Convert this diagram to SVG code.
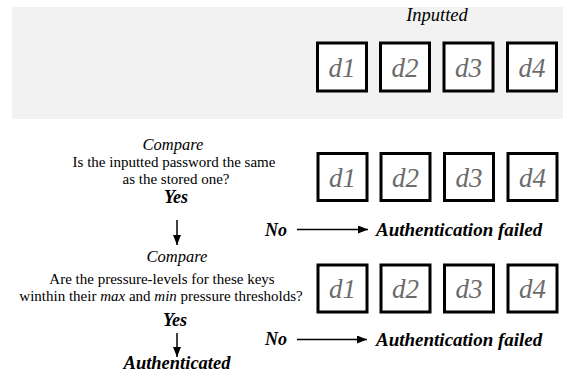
<svg xmlns="http://www.w3.org/2000/svg" width="563" height="382" viewBox="0 0 563 382" font-family="'Liberation Serif','Times New Roman',serif">
<defs>
<marker id="ah" markerWidth="10" markerHeight="8" refX="10" refY="4" orient="auto" markerUnits="userSpaceOnUse">
<path d="M0,0 L10,4 L0,8 Z" fill="#000"/>
</marker>
<style>
text{font-family:'Liberation Serif','Times New Roman',serif;fill:#000}
.box{fill:#fff;stroke:#000;stroke-width:3}
.d{font-style:italic;font-size:27px;fill:#6b6b6b;text-anchor:middle}
.it{font-style:italic;font-size:16.5px;text-anchor:middle}
.q{font-size:15px;text-anchor:middle}
.bi{font-style:italic;font-weight:bold;font-size:18px}
.c{text-anchor:middle}
.conn{stroke:#000;stroke-width:1.5;fill:none}
</style>
</defs>
<rect x="12" y="7" width="551" height="112" fill="#f2f2f2"/>
<text class="it" x="437" y="21" style="font-size:18.5px">Inputted</text>
<g id="input-keys">
<rect class="box" x="317.5" y="43" width="49" height="48"/><text class="d" x="342" y="77">d1</text>
<rect class="box" x="380.5" y="43" width="49" height="48"/><text class="d" x="405" y="77">d2</text>
<rect class="box" x="444" y="43" width="49" height="48"/><text class="d" x="468.5" y="77">d3</text>
<rect class="box" x="507.5" y="43" width="49" height="48"/><text class="d" x="532" y="77">d4</text>
</g>
<g id="stored-keys">
<rect class="box" x="318" y="153.5" width="49" height="47"/><text class="d" x="342.5" y="187">d1</text>
<rect class="box" x="381" y="153.5" width="49" height="47"/><text class="d" x="405.5" y="187">d2</text>
<rect class="box" x="444.5" y="153.5" width="49" height="47"/><text class="d" x="469" y="187">d3</text>
<rect class="box" x="508" y="153.5" width="49" height="47"/><text class="d" x="532.5" y="187">d4</text>
</g>
<g id="pressure-keys">
<rect class="box" x="318" y="265" width="49" height="47"/><text class="d" x="342.5" y="298">d1</text>
<rect class="box" x="381" y="265" width="49" height="47"/><text class="d" x="405.5" y="298">d2</text>
<rect class="box" x="444.5" y="265" width="49" height="47"/><text class="d" x="469" y="298">d3</text>
<rect class="box" x="508" y="265" width="49" height="47"/><text class="d" x="532.5" y="298">d4</text>
</g>
<g id="compare1">
<text class="it" x="173" y="150">Compare</text>
<text class="q" x="174" y="167">Is the inputted password the same</text>
<text class="q" x="176" y="184">as the stored one?</text>
<text class="bi c" x="176" y="203">Yes</text>
</g>
<g id="compare2">
<text class="it" x="177" y="262">Compare</text>
<text class="q" x="162" y="284">Are the pressure-levels for these keys</text>
<text class="q" x="161" y="301">winthin their <tspan font-style="italic">max</tspan> and <tspan font-style="italic">min</tspan> pressure thresholds?</text>
<text class="bi c" x="175" y="326">Yes</text>
</g>
<g id="fail1">
<text class="bi" x="265" y="236">No</text>
<text class="bi" x="376" y="236" style="font-size:19px">Authentication failed</text>
</g>
<g id="fail2">
<text class="bi" x="265" y="345">No</text>
<text class="bi" x="376" y="346" style="font-size:19px">Authentication failed</text>
</g>
<g id="authenticated">
<text class="bi c" x="177" y="369" style="font-size:18.5px">Authenticated</text>
</g>
<g id="connectors">
<line class="conn" x1="177" y1="220" x2="177" y2="245" marker-end="url(#ah)"/>
<line class="conn" x1="177" y1="333" x2="177" y2="357" marker-end="url(#ah)"/>
<line class="conn" x1="297" y1="229.5" x2="368" y2="229.5" marker-end="url(#ah)"/>
<line class="conn" x1="297" y1="339.5" x2="367" y2="339.5" marker-end="url(#ah)"/>
</g>
</svg>
